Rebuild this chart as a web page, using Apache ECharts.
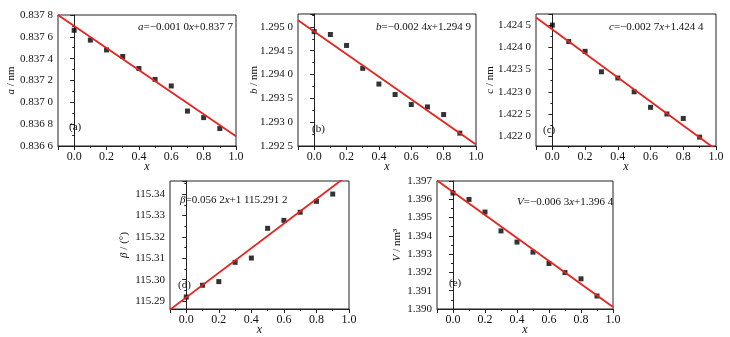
<!DOCTYPE html>
<html>
<head>
<meta charset="utf-8">
<script src="https://cdn.jsdelivr.net/npm/echarts@6/dist/echarts.min.js"></script>
<style>
html, body { margin: 0; padding: 0; background: #fff; }
#main { width: 730px; height: 337px; }
</style>
</head>
<body>
<div id="main"></div>
<script>
// composition x for every panel
const xVals = [0, 0.1, 0.2, 0.3, 0.4, 0.5, 0.6, 0.7, 0.8, 0.9];
// measured lattice parameters
const aVals = [0.83766, 0.83757, 0.83748, 0.83742, 0.83731, 0.83721, 0.83715, 0.83692, 0.83686, 0.83676];
const bVals = [1.29490, 1.29484, 1.29461, 1.29413, 1.29380, 1.29358, 1.29337, 1.29332, 1.29316, 1.29277];
const cVals = [1.42450, 1.42413, 1.42391, 1.42345, 1.42331, 1.42300, 1.42265, 1.42250, 1.42240, 1.42198];
const betaVals = [115.2919, 115.2974, 115.2991, 115.3081, 115.3101, 115.3240, 115.3277, 115.3315, 115.3366, 115.3400];
const vVals = [1.39634, 1.39599, 1.39530, 1.39427, 1.39366, 1.39311, 1.39249, 1.39199, 1.39165, 1.39071];
// linear fit lines, ends at x = -0.1 and x = 1.0
const fitX = [-0.1, 1.0];
const aFit = [0.83780, 0.83669];
const bFit = [1.29514, 1.29253];
const cFit = [1.42467, 1.42170];
const betaFit = [115.2860, 115.3492];
const vFit = [1.39703, 1.39011];
// fit equations and panel tags
const eqTexts = [
  '{i|a}=\u22120.001 0{i|x}+0.837 7',
  '{i|b}=\u22120.002 4{i|x}+1.294 9',
  '{i|c}=\u22120.002 7{i|x}+1.424 4',
  '{i|\u03b2}=0.056 2{i|x}+1 115.291 2',
  '{i|V}=\u22120.006 3{i|x}+1.396 4'
];
const tags = ['(a)', '(b)', '(c)', '(d)', '(e)'];
const yNames = ['{i|a} / nm', '{i|b} / nm', '{i|c} / nm', '{i|\u03b2} / (\u00b0)', '{i|V} / nm\u00b3'];
const yTicks = [
  { min: 0.8366, max: 0.8378, step: 0.0002, digits: 4, gap: true },
  { min: 1.2925, max: 1.29527, step: 0.0005, digits: 4, gap: true },
  { min: 1.42178, max: 1.42475, step: 0.0005, digits: 4, gap: true },
  { min: 115.2863, max: 115.3461, step: 0.01, digits: 2, gap: false },
  { min: 1.390, max: 1.397, step: 0.001, digits: 3, gap: false }
];

const seriesVals = [aVals, bVals, cVals, betaVals, vVals];
const fitVals = [aFit, bFit, cFit, betaFit, vFit];

const font = '"Liberation Serif", "Times New Roman", serif';
const grids = [
  { left: 58, top: 15, width: 178, height: 131 },
  { left: 298, top: 14, width: 178, height: 132 },
  { left: 536, top: 14, width: 180, height: 132 },
  { left: 170, top: 181, width: 179, height: 128 },
  { left: 437, top: 181, width: 176, height: 131 }
];
const nameGaps = [41, 38, 40, 40, 34];
const eqPos = [[138, 22], [376, 22], [609, 22], [180, 195], [517, 197]];
const tagPos = [[69, 122], [312, 124], [543, 125], [178, 280], [449, 278]];

function onStep(v, step) {
  const r = v / step;
  return Math.abs(r - Math.round(r)) < 1e-6;
}
function yLabel(v, t) {
  if (!onStep(v, t.step)) return '';
  const s = v.toFixed(t.digits);
  return t.gap ? s.slice(0, -1) + ' ' + s.slice(-1) : s;
}

const richI = { fontStyle: 'italic', fontFamily: font, fontSize: 11, color: '#111' };

let chart = echarts.init(document.getElementById('main'));
let option = {
  animation: false,
  backgroundColor: '#fff',
  grid: [], xAxis: [], yAxis: [], series: [], title: []
};

grids.forEach((g, k) => {
  option.grid.push(Object.assign({ show: true, borderColor: '#222', borderWidth: 1, containLabel: false }, g));
  option.xAxis.push({
    type: 'value', gridIndex: k, min: -0.1, max: 1.0, splitNumber: 5,
    name: 'x', nameLocation: 'middle', nameGap: 15, nameMoveOverlap: false,
    nameTextStyle: { fontFamily: font, fontStyle: 'italic', fontSize: 12, color: '#111' },
    axisLine: { show: true, lineStyle: { color: '#222', width: 1 } },
    axisTick: { show: true, inside: false, length: 4, lineStyle: { color: '#222' } },
    minorTick: { show: true, splitNumber: 2, length: 2, lineStyle: { color: '#222' } },
    splitLine: { show: false },
    axisLabel: {
      fontFamily: font, fontSize: 12, color: '#111', margin: 5,
      formatter: v => (v >= 0 && onStep(v, 0.2)) ? v.toFixed(1) : ''
    }
  });
  const t = yTicks[k];
  option.yAxis.push({
    type: 'value', gridIndex: k, min: t.min, max: t.max, splitNumber: Math.round((t.max - t.min) / t.step),
    name: yNames[k], nameLocation: 'middle', nameGap: nameGaps[k], nameRotate: 90, nameMoveOverlap: false,
    nameTextStyle: { fontFamily: font, fontSize: 11, color: '#111', rich: { i: richI } },
    axisLine: { show: true, lineStyle: { color: '#222', width: 1 } },
    axisTick: { show: true, inside: false, length: 4, lineStyle: { color: '#222' } },
    minorTick: { show: true, splitNumber: 2, length: 2, lineStyle: { color: '#222' } },
    splitLine: { show: false },
    axisLabel: { fontFamily: font, fontSize: 11, color: '#111', margin: 5, formatter: v => yLabel(v, t) }
  });
  option.series.push({
    type: 'line', xAxisIndex: k, yAxisIndex: k, clip: true, symbol: 'none',
    lineStyle: { color: '#e8231f', width: 1.8 },
    data: fitX.map((x, i) => [x, fitVals[k][i]])
  });
  option.series.push({
    type: 'scatter', xAxisIndex: k, yAxisIndex: k, symbol: 'rect', symbolSize: 5,
    itemStyle: { color: '#000' },
    data: xVals.map((x, i) => [x, seriesVals[k][i]])
  });
  option.title.push({
    text: eqTexts[k], left: eqPos[k][0], top: eqPos[k][1], padding: 0,
    textStyle: { fontFamily: font, fontSize: 11, fontWeight: 'normal', color: '#111', rich: { i: richI } }
  });
  option.title.push({
    text: tags[k], left: tagPos[k][0], top: tagPos[k][1], padding: 0,
    textStyle: { fontFamily: font, fontSize: 11, fontWeight: 'normal', color: '#111' }
  });
});

chart.setOption(option);
</script>
</body>
</html>
